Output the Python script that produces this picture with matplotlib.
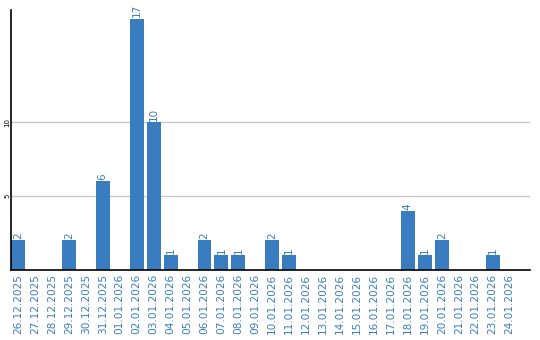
import matplotlib
matplotlib.use("Agg")
import matplotlib.pyplot as plt

dates = ["26.12.2025", "27.12.2025", "28.12.2025", "29.12.2025", "30.12.2025",
         "31.12.2025", "01.01.2026", "02.01.2026", "03.01.2026", "04.01.2026",
         "05.01.2026", "06.01.2026", "07.01.2026", "08.01.2026", "09.01.2026",
         "10.01.2026", "11.01.2026", "12.01.2026", "13.01.2026", "14.01.2026",
         "15.01.2026", "16.01.2026", "17.01.2026", "18.01.2026", "19.01.2026",
         "20.01.2026", "21.01.2026", "22.01.2026", "23.01.2026", "24.01.2026"]
values = [2, 0, 0, 2, 0, 6, 0, 17, 10, 1, 0, 2, 1, 1, 0, 2, 1, 0, 0, 0,
          0, 0, 0, 4, 1, 2, 0, 0, 1, 0]
yticks = [5, 10]

bar_color = "#3a7cc0"
label_color = "#3a7cc0"

fig = plt.figure(figsize=(5.4, 3.4), dpi=100)
ax = fig.add_axes([11/540, 70/340, 519/540, 260/340])

x = list(range(len(dates)))
ax.bar(x, values, width=0.82, color=bar_color, zorder=2)
for xi, v in zip(x, values):
    if v > 0:
        ax.annotate(str(v), (xi, v), xytext=(0, 1), textcoords="offset points",
                    rotation=90, ha="center", va="bottom", color=label_color,
                    fontsize=7.5)

ax.set_xlim(-0.41, 30.2)
ax.set_ylim(0, 17.6)
ax.set_yticks(yticks)
ax.set_yticklabels([str(t) for t in yticks], rotation=90, fontsize=5, va="center")
ax.set_xticks(x)
ax.set_xticklabels(dates, rotation=90, fontsize=7.6, color=label_color)
ax.tick_params(axis="x", length=0, pad=3)
ax.tick_params(axis="y", length=0, pad=0.5)
ax.grid(axis="y", color="#c8c8c8", linewidth=1, zorder=0)
for s in ["top", "right"]:
    ax.spines[s].set_visible(False)
ax.spines["left"].set_linewidth(1.2)
ax.spines["bottom"].set_linewidth(1.2)

fig.savefig("out.png", dpi=100)
